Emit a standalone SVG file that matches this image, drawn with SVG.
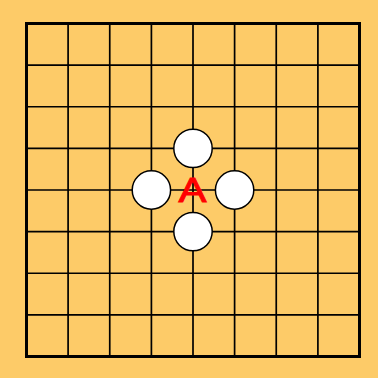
<svg xmlns="http://www.w3.org/2000/svg" width="378" height="378" viewBox="0 0 378 378">
  <style>
    .grid { stroke: #000; stroke-width: 1.7; fill: none; }
    .border { stroke: #000; stroke-width: 3; fill: none; }
    .stone { fill: #fff; stroke: #000; stroke-width: 1.5; }
    .label { fill: #ff0000; stroke: #ff0000; stroke-width: 0.9; font-family: "Liberation Sans", Arial, sans-serif; font-size: 35px; text-anchor: middle; }
  </style>
  <rect x="0" y="0" width="378" height="378" fill="#FDCB68"/>
  <g id="board">
    <path class="grid" d="M68.1 23.5V356.5M109.75 23.5V356.5M151.4 23.5V356.5M193 23.5V356.5M234.6 23.5V356.5M276.25 23.5V356.5M317.9 23.5V356.5M26.5 65.1H359.5M26.5 106.75H359.5M26.5 148.4H359.5M26.5 190H359.5M26.5 231.6H359.5M26.5 273.25H359.5M26.5 314.9H359.5"/>
    <rect class="border" x="26.5" y="23.5" width="333" height="333"/>
  </g>
  <g id="stone-top"><circle class="stone" cx="193" cy="148.4" r="19.2"/></g>
  <g id="stone-left"><circle class="stone" cx="151.4" cy="190" r="19.2"/></g>
  <g id="stone-right"><circle class="stone" cx="234.6" cy="190" r="19.2"/></g>
  <g id="stone-bottom"><circle class="stone" cx="193" cy="231.6" r="19.2"/></g>
  <g id="label-A"><text class="label" transform="translate(192.5 201.5) scale(1.2 1)" x="0" y="0">A</text></g>
</svg>
